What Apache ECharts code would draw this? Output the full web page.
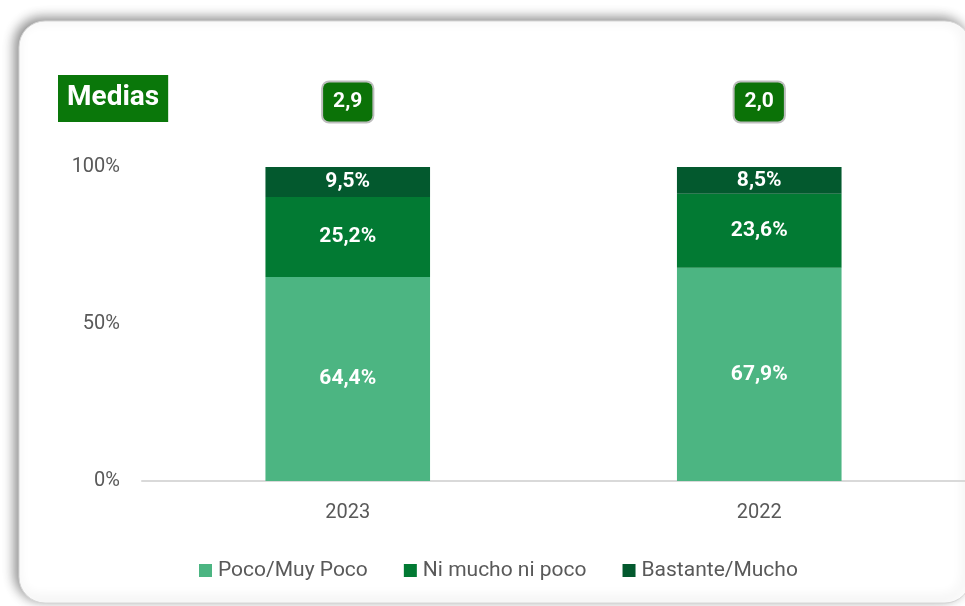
<!DOCTYPE html>
<html>
<head>
<meta charset="utf-8">
<script src="https://cdn.jsdelivr.net/npm/echarts@6/dist/echarts.min.js"></script>
<style>
  html, body { margin: 0; padding: 0; background: #ffffff; }
  #chart { width: 965px; height: 606px; }
</style>
</head>
<body>
<div id="chart"></div>
<script>
// Years shown on the category axis
const years = ['2023', '2022'];

// Share of answers per level (%), one value per year
const pocoMuyPoco = [64.4, 67.9];
const niMuchoNiPoco = [25.2, 23.6];
const bastanteMucho = [9.5, 8.5];

// Mean score per year
const medias = [2.9, 2.0];

// Value axis tick labels
const yTicks = [0, 50, 100];

const seriesNames = ['Poco/Muy Poco', 'Ni mucho ni poco', 'Bastante/Mucho'];
const seriesColors = ['#4cb582', '#027a33', '#03592e'];
const rawSeries = [pocoMuyPoco, niMuchoNiPoco, bastanteMucho];

const FONT = 'Roboto, "Noto Sans", sans-serif';

// Each bar is stacked to 100%: values are scaled by the year's total
const totals = years.map((_, i) => rawSeries.reduce((s, arr) => s + arr[i], 0));
const fmt = v => v.toFixed(1).replace('.', ',');

const barSeries = rawSeries.map((arr, k) => ({
  name: seriesNames[k],
  type: 'bar',
  stack: 'total',
  barWidth: '40%',
  itemStyle: { color: seriesColors[k] },
  label: {
    show: true,
    position: 'inside',
    color: '#ffffff',
    fontFamily: FONT,
    fontWeight: 'bold',
    fontSize: 21,
    formatter: p => fmt(arr[p.dataIndex]) + '%'
  },
  data: arr.map((v, i) => ({ value: v / totals[i] * 100, raw: v }))
}));

// Mean boxes above each bar
const meanSeries = {
  name: 'Medias',
  type: 'scatter',
  symbolSize: 0,
  silent: true,
  z: 5,
  itemStyle: { opacity: 1 },
  emphasis: { disabled: true },
  label: {
    show: true,
    position: 'inside',
    offset: [0, -65],
    color: '#ffffff',
    fontFamily: FONT,
    fontWeight: 'bold',
    fontSize: 21,
    lineHeight: 21,
    opacity: 1,
    backgroundColor: '#0b7207',
    borderColor: '#bdbdbd',
    borderWidth: 2,
    borderRadius: 6,
    padding: [9, 10, 9, 10],
    formatter: p => fmt(medias[p.dataIndex])
  },
  data: years.map((y, i) => [i, 100])
};

const chart = echarts.init(document.getElementById('chart'), null, { renderer: 'canvas' });

chart.setOption({
  backgroundColor: '#ffffff',
  animation: false,
  graphic: [{
    type: 'rect',
    z: -10,
    silent: true,
    shape: { x: 19, y: 21, width: 952, height: 582, r: 26 },
    style: {
      fill: '#ffffff',
      stroke: '#d6d6d6',
      lineWidth: 1,
      shadowBlur: 12,
      shadowOffsetX: -4,
      shadowOffsetY: -3,
      shadowColor: 'rgba(0,0,0,0.45)'
    }
  }],
  title: {
    text: 'Medias',
    left: 58,
    top: 75,
    padding: [9, 9, 10, 9],
    backgroundColor: '#0a770a',
    textStyle: {
      color: '#ffffff',
      fontFamily: FONT,
      fontWeight: 'bold',
      fontSize: 28,
      lineHeight: 28
    }
  },
  legend: {
    data: seriesNames,
    left: 194,
    top: 555,
    icon: 'rect',
    itemWidth: 13,
    itemHeight: 13,
    itemGap: 36,
    textStyle: {
      color: '#595959',
      fontFamily: FONT,
      fontSize: 21,
      padding: [0, 0, 0, 1]
    }
  },
  grid: {
    left: 142,
    top: 167,
    width: 824,
    bottom: 125,
    containLabel: false
  },
  xAxis: {
    type: 'category',
    data: years,
    axisLine: { show: true, lineStyle: { color: '#d9d9d9', width: 2 } },
    axisTick: { show: false },
    axisLabel: {
      color: '#595959',
      fontFamily: FONT,
      fontSize: 20,
      margin: 22
    }
  },
  yAxis: {
    type: 'value',
    min: 0,
    max: 100,
    interval: 50,
    axisLine: { show: false },
    axisTick: { show: false },
    splitLine: { show: false },
    axisLabel: {
      color: '#595959',
      fontFamily: FONT,
      fontSize: 20,
      margin: 22,
      customValues: yTicks,
      formatter: v => v + '%'
    }
  },
  series: [...barSeries, meanSeries]
});
</script>
</body>
</html>
